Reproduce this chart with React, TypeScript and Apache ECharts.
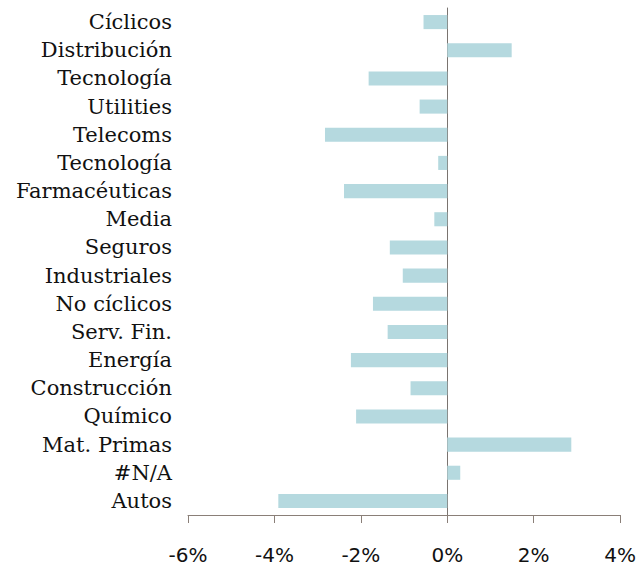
import React, { useEffect, useRef } from "react";
import * as echarts from "echarts";

const categories = [
  "Cíclicos",
  "Distribución",
  "Tecnología",
  "Utilities",
  "Telecoms",
  "Tecnología",
  "Farmacéuticas",
  "Media",
  "Seguros",
  "Industriales",
  "No cíclicos",
  "Serv. Fin.",
  "Energía",
  "Construcción",
  "Químico",
  "Mat. Primas",
  "#N/A",
  "Autos",
];

const values = [
  -0.55, 1.49, -1.82, -0.64, -2.83, -0.21, -2.39, -0.3, -1.33, -1.03, -1.72,
  -1.38, -2.23, -0.85, -2.11, 2.87, 0.3, -3.91,
];

const xTicks = [-6, -4, -2, 0, 2, 4];

export default function App() {
  const ref = useRef<HTMLDivElement>(null);
  useEffect(() => {
    if (!ref.current) return;
    const chart = echarts.init(ref.current, undefined, { renderer: "svg" });
    const serif = "'DejaVu Serif', serif";
    const sans = "'DejaVu Sans', sans-serif";
    chart.setOption({
      animation: false,
      grid: { left: 188, right: 16, top: 8, bottom: 51, containLabel: false },
      xAxis: {
        type: "value",
        min: xTicks[0],
        max: xTicks[xTicks.length - 1],
        interval: 2,
        splitLine: { show: false },
        axisLine: { show: true, onZero: false, lineStyle: { color: "#8a7f78", width: 1 } },
        axisTick: { show: true, length: 8, lineStyle: { color: "#8a7f78" } },
        axisLabel: {
          margin: 30,
          color: "#111",
          fontFamily: sans,
          fontSize: 20,
          formatter: (v: number) => `${v}%`,
        },
      },
      yAxis: {
        type: "category",
        inverse: true,
        data: categories,
        axisLine: { show: true, onZero: true, lineStyle: { color: "#7a7470", width: 1 } },
        axisTick: { show: false },
        axisLabel: {
          color: "#111",
          fontFamily: serif,
          fontSize: 21,
          margin: 16,
        },
      },
      series: [
        {
          type: "bar",
          data: values,
          barWidth: "50%",
          itemStyle: { color: "#b5d9df" },
        },
      ],
    });
    return () => chart.dispose();
  }, []);
  return (
    <div
      ref={ref}
      style={{ position: "absolute", left: 0, top: 0, width: 639, height: 566 }}
    />
  );
}
